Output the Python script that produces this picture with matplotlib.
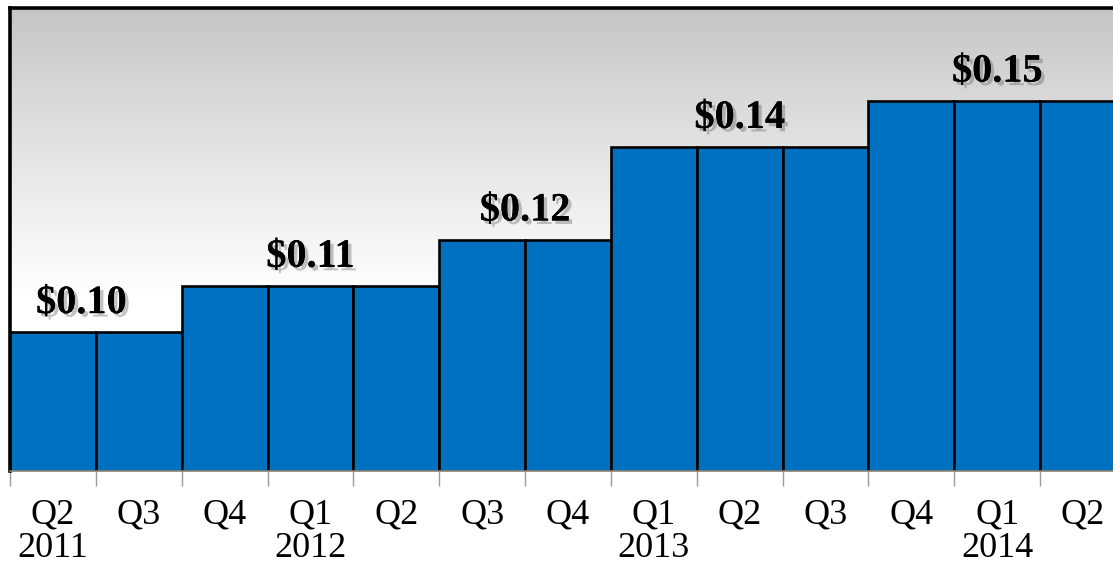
import matplotlib
matplotlib.use("Agg")
import matplotlib.pyplot as plt
import matplotlib.patheffects as pe
import numpy as np

quarters = ["Q2", "Q3", "Q4", "Q1", "Q2", "Q3", "Q4", "Q1", "Q2", "Q3", "Q4", "Q1", "Q2"]
years = ["2011", "", "", "2012", "", "", "", "2013", "", "", "", "2014", ""]
dividends = [0.10, 0.10, 0.11, 0.11, 0.11, 0.12, 0.12, 0.14, 0.14, 0.14, 0.15, 0.15, 0.15]
label_texts = ["$0.10", "$0.11", "$0.12", "$0.14", "$0.15"]
label_values = [0.10, 0.11, 0.12, 0.14, 0.15]
label_x = [0.33, 3.0, 5.5, 8.0, 11.0]

W, H = 1113, 565
fig = plt.figure(figsize=(W / 100, H / 100), dpi=100)
left_px, right_px, top_px, base_px = 10, 1126, 8, 471
ax = fig.add_axes([left_px / W, (H - base_px) / H, (right_px - left_px) / W, (base_px - top_px) / H])

n = len(dividends)
x = np.arange(n)

# gradient background (row 0 = top)
t = np.linspace(0, 1, 256)
v = 0.77 + 0.23 * np.clip(t / 0.62, 0, 1) ** 0.9
grad = np.repeat(v[:, None], 2, axis=1)
ax.imshow(np.dstack([grad, grad, grad]), extent=[0, 1, 0, 1], origin="upper", transform=ax.transAxes,
          aspect="auto", zorder=0, interpolation="bilinear")
ax.set_xlim(-0.5, n - 0.5)
ax.set_ylim(0.07, 0.17)

ax.bar(x, dividends, width=1.0, color="#0070c0", edgecolor="black", linewidth=1.9, zorder=2)

shadow = [pe.withSimplePatchShadow(offset=(2.5, -2.5), shadow_rgbFace="#555555", alpha=0.35), pe.Normal()]
for txt, val, xx in zip(label_texts, label_values, label_x):
    ax.text(xx, val + 0.0041, txt, ha="center", va="baseline", fontsize=29, fontweight="bold",
            family="Liberation Serif", color="black", path_effects=shadow, zorder=4)

for s in ["top", "left"]:
    ax.spines[s].set_linewidth(2.6)
    ax.spines[s].set_color("black")
ax.spines["right"].set_visible(False)
ax.spines["bottom"].set_color("#8a8070")
ax.spines["bottom"].set_linewidth(1.2)
ax.spines["bottom"].set_zorder(5)

ax.set_yticks([])
ax.set_xticks(x)
ax.set_xticklabels([q + "\n" + y for q, y in zip(quarters, years)], family="Liberation Serif",
                   fontsize=26, linespacing=1.02, va="top")
ax.tick_params(axis="x", which="major", length=0, pad=20)
ax.set_xticks(np.arange(-0.5, n, 1.0), minor=True)
ax.tick_params(axis="x", which="minor", length=11, width=1.0, color="#999999")

fig.savefig("out.png", dpi=100)
